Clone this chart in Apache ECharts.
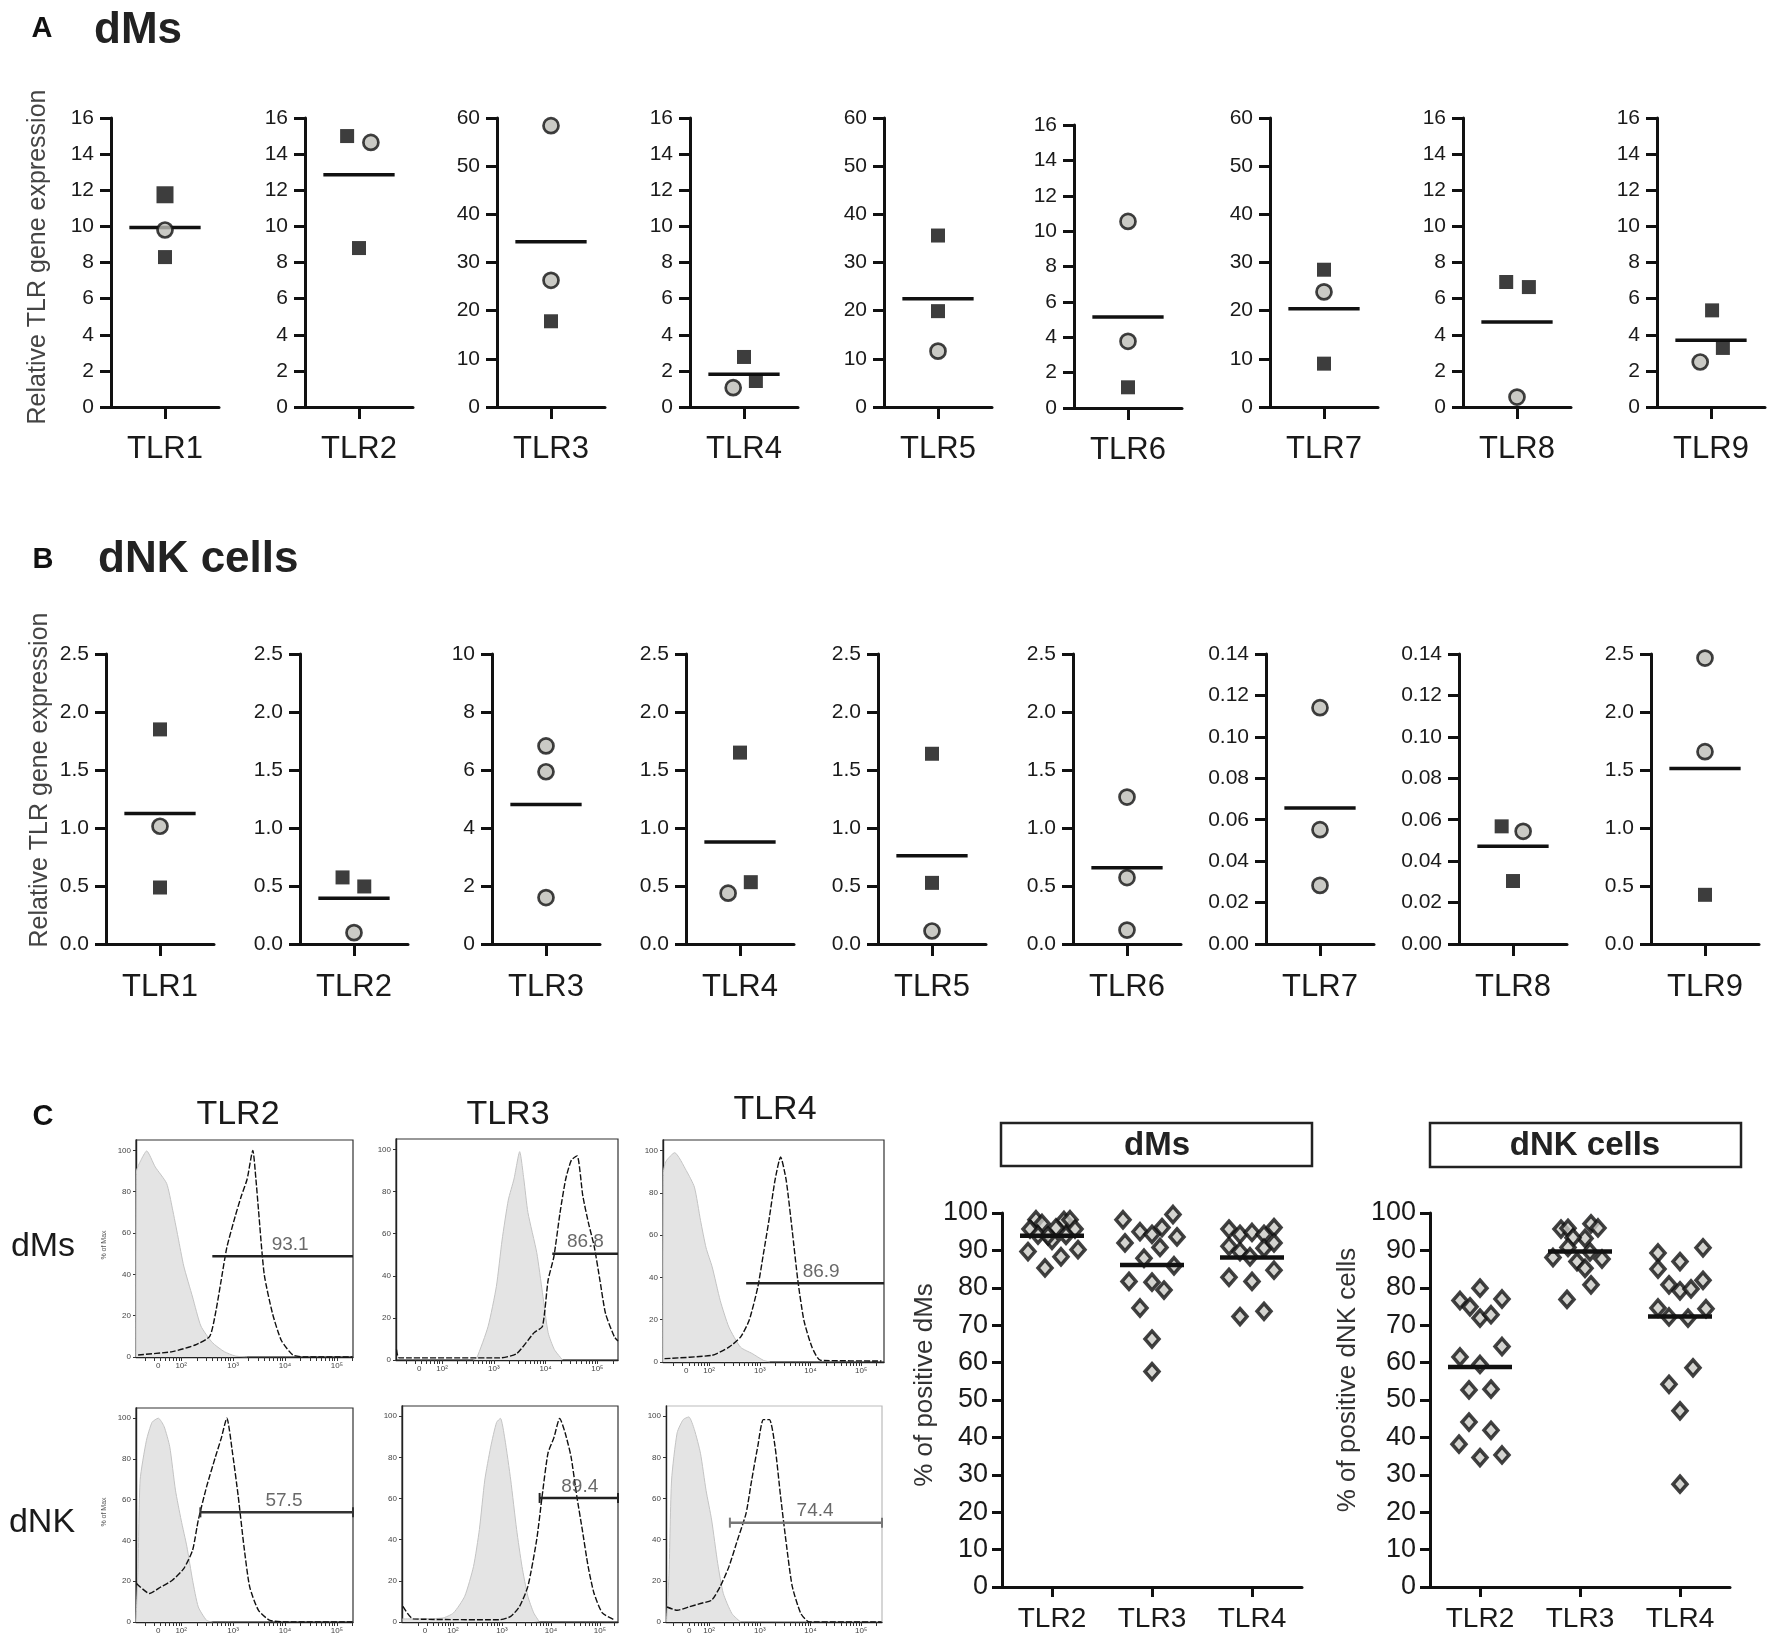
<!DOCTYPE html>
<html>
<head>
<meta charset="utf-8">
<title>TLR expression in dMs and dNK cells</title>
<script src="https://cdn.jsdelivr.net/npm/echarts@6.0.0/dist/echarts.min.js"></script>
<style>
html, body { margin: 0; padding: 0; background: #fff; }
#main { width: 1772px; height: 1650px; }
</style>
</head>
<body>
<div id="main"></div>
<script>
var FONT = '"Liberation Sans", Arial, Helvetica, sans-serif';

// ---- panel A : dMs, relative TLR gene expression ----
// points are [x offset, value] (optional 3rd item = marker size)
var tlrNames = ['TLR1', 'TLR2', 'TLR3', 'TLR4', 'TLR5', 'TLR6', 'TLR7', 'TLR8', 'TLR9'];
var aMax = [16, 16, 60, 16, 60, 16, 60, 16, 16];
var aSquares = [
    [[0, 11.75, 17], [0, 8.3]],
    [[-0.11, 15.0], [0, 8.8]],
    [[0, 17.8]],
    [[0, 2.77], [0.11, 1.44]],
    [[0, 35.6], [0, 19.9]],
    [[0, 1.17]],
    [[0, 28.5], [0, 9.0]],
    [[-0.1, 6.92], [0.11, 6.64]],
    [[0.01, 5.35], [0.11, 3.27]]
];
var aCircles = [
    [[0, 9.8]],
    [[0.11, 14.65]],
    [[0, 58.4], [0, 26.3]],
    [[-0.1, 1.07]],
    [[0, 11.6]],
    [[0, 10.55], [0, 3.77]],
    [[0, 23.9]],
    [[0, 0.55]],
    [[-0.1, 2.49]]
];
var aMeans = [9.94, 12.86, 34.3, 1.81, 22.5, 5.14, 20.4, 4.70, 3.69];

// ---- panel B : dNK cells ----
var bMax = [2.5, 2.5, 10, 2.5, 2.5, 2.5, 0.14, 0.14, 2.5];
var bSquares = [
    [[0, 1.85], [0, 0.487]],
    [[-0.106, 0.574], [0.095, 0.496]],
    [],
    [[0, 1.65], [0.1, 0.533]],
    [[0, 1.64], [0, 0.527]],
    [],
    [],
    [[-0.105, 0.0568], [0, 0.0304]],
    [[0, 0.424]]
];
var bCircles = [
    [[0, 1.015]],
    [[0, 0.098]],
    [[0, 6.83], [0, 5.94], [0, 1.60]],
    [[-0.11, 0.438]],
    [[0, 0.112]],
    [[0, 1.267], [0, 0.573], [0, 0.12]],
    [[0, 0.1141], [0, 0.0552], [0, 0.0283]],
    [[0.094, 0.0544]],
    [[0, 2.465], [0, 1.658]]
];
var bMeans = [1.125, 0.395, 4.81, 0.88, 0.76, 0.657, 0.0656, 0.0472, 1.514];

// ---- panel C : flow histograms (x in log decades, y in % of max) ----
var tlr2DmsIso = [[1.13, 0], [1.14, 90], [1.22, 95], [1.335, 99.7], [1.5, 92], [1.72, 84], [1.83, 72], [1.94, 58], [2.05, 44], [2.22, 29], [2.38, 15], [2.6, 7], [2.83, 2.6], [3.04, 0.5], [3.27, 0]];
var tlr2DmsStain = [[1.17, 1], [1.83, 2.6], [2.27, 5.8], [2.55, 10], [2.66, 21], [2.77, 37], [2.88, 53], [3.04, 68], [3.16, 78], [3.27, 86], [3.38, 100], [3.44, 86], [3.49, 71], [3.6, 40], [3.76, 21], [3.93, 8], [4.15, 1], [4.37, 0], [5.3, 0]];
var tlr3DmsIso = [[2.6, 0], [2.67, 1], [2.89, 16], [3.05, 35], [3.16, 57], [3.28, 76], [3.39, 86], [3.5, 99], [3.58, 86], [3.66, 70], [3.83, 51], [3.94, 32], [4.05, 13], [4.17, 5], [4.33, 0]];
var tlr3DmsStain = [[1.12, 5], [1.17, 1], [3.11, 1], [3.44, 3], [3.78, 13], [3.94, 16], [4.05, 38], [4.16, 49], [4.28, 70], [4.39, 86], [4.5, 95], [4.61, 97], [4.72, 78], [4.83, 65], [4.94, 54], [5.05, 38], [5.16, 22], [5.33, 11], [5.4, 9]];
var tlr4DmsIso = [[1.09, 0], [1.1, 90], [1.15, 95], [1.32, 99], [1.55, 90.5], [1.71, 82.7], [1.83, 67], [1.94, 54], [2.06, 45], [2.22, 29], [2.39, 16.5], [2.62, 7], [2.85, 4], [3.07, 0.8], [3.2, 0]];
var tlr4DmsStain = [[1.12, 1.6], [2.06, 3.2], [2.39, 7], [2.62, 11.8], [2.79, 19.7], [2.96, 35.4], [3.07, 51], [3.18, 67], [3.3, 86], [3.41, 97], [3.52, 86], [3.64, 62], [3.75, 38.6], [3.87, 19.7], [4.03, 7], [4.2, 0.8], [5.4, 0.5]];
var tlr2DnkIso = [[1.13, 0], [1.17, 27], [1.21, 69.7], [1.33, 89], [1.44, 98], [1.56, 100], [1.67, 96], [1.78, 86], [1.89, 64.7], [2.0, 50], [2.11, 37], [2.22, 20.5], [2.33, 7.4], [2.49, 0.8], [2.6, 0]];
var tlr2DnkStain = [[1.14, 18.9], [1.39, 14], [1.61, 17.2], [1.83, 20.5], [2.05, 26.2], [2.22, 35.2], [2.33, 50], [2.49, 66.4], [2.66, 81], [2.77, 90], [2.88, 100], [2.99, 82.8], [3.1, 61.5], [3.21, 37], [3.32, 17.2], [3.49, 5.7], [3.71, 0.8], [4.04, 0], [5.3, 0]];
var tlr3DnkIso = [[0.97, 1.5], [1.78, 1.9], [2.01, 4.4], [2.24, 12.5], [2.42, 27], [2.54, 45], [2.65, 69], [2.77, 85], [2.89, 97], [2.97, 99], [3.06, 89], [3.18, 69], [3.3, 45], [3.41, 27], [3.53, 12.5], [3.65, 4.4], [3.76, 0.3]];
var tlr3DnkStain = [[0.98, 7.6], [1.19, 1.5], [2.95, 1.1], [3.18, 2.7], [3.36, 7.6], [3.53, 17.3], [3.71, 40], [3.82, 61], [3.94, 82], [4.06, 89.5], [4.18, 99], [4.29, 92], [4.41, 80.5], [4.53, 61], [4.64, 45], [4.76, 27], [4.88, 14], [5.05, 4.4], [5.29, 1.1]];
var tlr4DnkIso = [[1.16, 0], [1.21, 23.6], [1.26, 69], [1.37, 92], [1.49, 98.4], [1.6, 99.7], [1.71, 93.5], [1.83, 82], [1.94, 64], [2.05, 49.6], [2.17, 28.5], [2.28, 13.9], [2.45, 4.1], [2.62, 0]];
var tlr4DnkStain = [[1.17, 7.3], [1.37, 5.7], [1.6, 7.3], [1.83, 9], [2.05, 10.6], [2.22, 17.3], [2.39, 26.8], [2.56, 39.9], [2.73, 52.9], [2.84, 69], [2.96, 85.4], [3.07, 98.4], [3.19, 98.4], [3.3, 85.4], [3.41, 61], [3.53, 36.6], [3.64, 17.3], [3.81, 4.1], [3.98, 0], [5.4, 0]];
// gate: [from, to, height], percentage text
var gateRanges = [[2.6, 5.31, 48.8], [4.13, 5.4, 50.5], [2.73, 5.45, 37.3], [2.37, 5.31, 53.8], [3.77, 5.37, 60.3], [2.41, 5.41, 48.3]];
var gateTexts = ['93.1', '86.8', '86.9', '57.5', '89.4', '74.4'];
var gateTextX = [4.10, 4.77, 4.21, 3.98, 4.59, 4.09];

// ---- panel C : % positive cells (x = group index + jitter) ----
var cGroups = ['TLR2', 'TLR3', 'TLR4'];
var dmsTlr2 = [[-0.16, 98.2], [-0.10, 97.2], [0.12, 98.0], [0.18, 98.2], [-0.22, 95.7], [0.04, 96.0], [0.23, 95.7], [0.00, 92.7], [-0.24, 89.7], [0.26, 90.2], [0.09, 88.3], [-0.07, 85.3], [-0.14, 94.1], [-0.04, 93.9], [0.14, 94.0]];
var dmsTlr3 = [[-0.29, 98.2], [0.21, 99.6], [0.10, 96.1], [-0.12, 95.0], [0, 94.3], [0.25, 93.6], [-0.27, 92.0], [0.08, 90.8], [-0.08, 87.9], [0.22, 85.9], [-0.23, 81.7], [0, 81.5], [0.12, 79.4], [-0.12, 74.6], [0, 66.3], [0, 57.6]];
var dmsTlr4 = [[-0.23, 95.7], [-0.12, 94.3], [0, 94.8], [0.12, 94.3], [0.22, 96.1], [-0.23, 91.1], [-0.12, 89.7], [0.12, 90.6], [0.22, 92.0], [-0.02, 88.3], [-0.23, 82.8], [0, 81.7], [0.22, 84.7], [-0.12, 72.3], [0.12, 73.7]];
var dmsMeans = [93.9, 86.1, 88.1];
var dnkTlr2 = [[-0.2, 76.6], [-0.1, 74.9], [0, 79.9], [0.22, 77.0], [0, 71.9], [0.11, 72.8], [0.22, 64.3], [-0.2, 61.5], [0, 59.5], [-0.11, 52.7], [0.11, 52.9], [-0.11, 44.1], [0.11, 41.9], [-0.21, 38.2], [0, 34.6], [0.22, 35.3]];
var dnkTlr3 = [[-0.19, 95.7], [-0.12, 95.9], [0.11, 97.1], [0.18, 96.0], [0.05, 93.2], [-0.07, 93.4], [-0.12, 90.8], [-0.27, 88.1], [-0.03, 87.0], [0.1, 89.6], [0.22, 87.7], [0.05, 85.2], [0.11, 80.8], [-0.13, 76.9]];
var dnkTlr4 = [[-0.22, 89.3], [0, 87.0], [0.23, 90.7], [-0.22, 85.0], [-0.11, 80.8], [0, 79.2], [0.11, 79.7], [0.23, 82.0], [-0.22, 74.6], [-0.11, 72.2], [0.08, 71.9], [0.26, 74.4], [0.13, 58.6], [-0.11, 54.2], [0, 47.1], [0, 27.5]];
var dnkMeans = [58.8, 89.7, 72.3];

// layout (pixels)
var aLeft = [111, 305, 497, 690, 884, 1074, 1270, 1463, 1657];
var bLeft = [106, 300, 492, 686, 878, 1073, 1266, 1459, 1651];

var myChart = echarts.init(document.getElementById('main'));
var option = { animation: false, grid: [], xAxis: [], yAxis: [], series: [], graphic: [] };

function newGrid(cfg) {
    cfg.containLabel = false;
    cfg.outerBoundsMode = 'none';
    option.grid.push(cfg);
    return option.grid.length - 1;
}

// one small gene-expression plot (panels A, B)
function addExprPlot(left, top, height, max, digits, name, squares, circles, mean, labelMargin) {
    var gi = newGrid({ left: left, top: top, width: 108, height: height });
    var step = max <= 0.2 ? 0.02 : (max <= 2.5 ? 0.5 : (max <= 16 ? 2 : 10));
    option.xAxis.push({
        gridIndex: gi, type: 'value', min: -0.5, max: 0.5,
        axisLine: { show: true, onZero: false, lineStyle: { color: '#111', width: 3 } },
        axisTick: { show: true, customValues: [0], length: 12, lineStyle: { color: '#111', width: 3 } },
        axisLabel: { show: true, customValues: [0], formatter: function () { return name; },
            fontSize: 31, color: '#1a1a1a', margin: labelMargin, fontFamily: FONT },
        splitLine: { show: false }
    });
    option.yAxis.push({
        gridIndex: gi, type: 'value', min: 0, max: max, interval: step,
        axisLine: { show: true, onZero: false, lineStyle: { color: '#111', width: 3 } },
        axisTick: { show: true, length: 11, lineStyle: { color: '#111', width: 3 } },
        axisLabel: { fontSize: 21, color: '#1a1a1a', margin: 17, fontFamily: FONT,
            formatter: function (v) { return v.toFixed(digits); } },
        splitLine: { show: false }
    });
    option.series.push({
        type: 'line', xAxisIndex: gi, yAxisIndex: gi, data: [[-0.33, mean], [0.33, mean]],
        symbol: 'none', silent: true, z: 2, lineStyle: { color: '#111', width: 3.5 }
    });
    option.series.push({
        type: 'scatter', xAxisIndex: gi, yAxisIndex: gi, data: squares, symbol: 'rect',
        symbolSize: function (v) { return v[2] || 14; }, silent: true, z: 3, itemStyle: { color: '#0c0c0c' }
    });
    option.series.push({
        type: 'scatter', xAxisIndex: gi, yAxisIndex: gi, data: circles, symbol: 'circle',
        symbolSize: 15, silent: true, z: 4,
        itemStyle: { color: '#bdbdb7', borderColor: '#111', borderWidth: 2.7 }
    });
}

for (var i = 0; i < 9; i++) {
    addExprPlot(aLeft[i], i == 5 ? 125 : 118, i == 5 ? 283 : 289, aMax[i], 0, tlrNames[i],
        aSquares[i], aCircles[i], aMeans[i], 27);
    var bDig = bMax[i] == 10 ? 0 : (bMax[i] < 1 ? 2 : 1);
    addExprPlot(bLeft[i], 654, 290, bMax[i], bDig, tlrNames[i],
        bSquares[i], bCircles[i], bMeans[i], 28);
}

// flow histogram
var SUP = { 2: '\u00b2', 3: '\u00b3', 4: '\u2074', 5: '\u2075' };
function addHist(left, top, width, height, xMin, xMax, zeroPos, iso, stain, k, gateColor, endTicks) {
    var gi = newGrid({ left: left, top: top, width: width, height: height,
        show: true, borderColor: k == 5 ? '#bbb' : '#333', borderWidth: 1.2, backgroundColor: 'transparent' });
    var minor = [];
    for (var d = 1; d <= 5; d++) {
        for (var m = 1; m <= 9; m++) {
            var v = d + Math.log10(m);
            if (v >= xMin && v <= xMax && v > zeroPos - 0.35) minor.push(v);
        }
    }
    option.xAxis.push({
        gridIndex: gi, type: 'value', min: xMin, max: xMax,
        axisLine: { show: true, onZero: false, lineStyle: { color: '#222', width: 1.4 } },
        axisTick: { show: true, customValues: minor, length: 4, lineStyle: { color: '#333', width: 1 } },
        axisLabel: { show: true, customValues: [zeroPos, 2, 3, 4, 5], fontSize: 8, color: '#444', margin: 5,
            fontFamily: FONT,
            formatter: function (v) { return Math.abs(v - zeroPos) < 0.01 ? '0' : '10' + SUP[Math.round(v)]; } },
        splitLine: { show: false }
    });
    option.yAxis.push({
        gridIndex: gi, type: 'value', min: 0, max: 105,
        axisLine: { show: true, onZero: false, lineStyle: { color: '#222', width: 1.4 } },
        axisTick: { show: true, customValues: [0, 20, 40, 60, 80, 100], length: 3, lineStyle: { color: '#333' } },
        axisLabel: { show: true, customValues: [0, 20, 40, 60, 80, 100], fontSize: 8, color: '#444', margin: 5,
            fontFamily: FONT },
        splitLine: { show: false }
    });
    option.series.push({
        type: 'line', xAxisIndex: gi, yAxisIndex: gi, data: iso, smooth: 0.2, symbol: 'none', silent: true,
        z: 2, lineStyle: { color: '#c4c4c4', width: 1 }, areaStyle: { color: '#e4e4e4', opacity: 1 }
    });
    option.series.push({
        type: 'line', xAxisIndex: gi, yAxisIndex: gi, data: stain, smooth: 0.2, symbol: 'none', silent: true,
        z: 3, lineStyle: { color: '#111', width: 1.4, type: [6, 2] }
    });
    var g = gateRanges[k];
    option.series.push({
        type: 'line', xAxisIndex: gi, yAxisIndex: gi, data: [[g[0], g[2]], [g[1], g[2]]],
        symbol: endTicks ? 'rect' : 'none', symbolSize: [2, 10], silent: true, z: 4,
        itemStyle: { color: gateColor }, lineStyle: { color: gateColor, width: 2.5 }
    });
    option.series.push({
        type: 'scatter', xAxisIndex: gi, yAxisIndex: gi, data: [[gateTextX[k], g[2]]],
        symbolSize: 0.1, silent: true, z: 5, itemStyle: { color: 'rgba(0,0,0,0)' },
        label: { show: true, position: 'top', distance: 2, formatter: gateTexts[k],
            fontSize: 19, color: '#444', fontFamily: FONT }
    });
}

addHist(136, 1140, 217, 217, 1.13, 5.31, 1.56, tlr2DmsIso, tlr2DmsStain, 0, '#222', false);
addHist(396, 1139, 222, 221, 1.11, 5.40, 1.56, tlr3DmsIso, tlr3DmsStain, 1, '#222', false);
addHist(663, 1140, 221, 222, 1.09, 5.45, 1.55, tlr4DmsIso, tlr4DmsStain, 2, '#222', false);
addHist(136, 1408, 217, 214, 1.13, 5.31, 1.56, tlr2DnkIso, tlr2DnkStain, 3, '#333', true);
addHist(402, 1406, 216, 216, 0.96, 5.37, 1.43, tlr3DnkIso, tlr3DnkStain, 4, '#222', true);
addHist(666, 1406, 216, 216, 1.15, 5.41, 1.61, tlr4DnkIso, tlr4DnkStain, 5, '#777', true);

// % positive dot plots
function addPercentPlot(left, groups, means) {
    var gi = newGrid({ left: left, top: 1213, width: 300, height: 374 });
    option.xAxis.push({
        gridIndex: gi, type: 'value', min: -0.5, max: 2.5,
        axisLine: { show: true, onZero: false, lineStyle: { color: '#111', width: 3 } },
        axisTick: { show: true, customValues: [0, 1, 2], length: 10, lineStyle: { color: '#111', width: 3 } },
        axisLabel: { show: true, customValues: [0, 1, 2], formatter: function (v) { return cGroups[Math.round(v)]; },
            fontSize: 28, color: '#1a1a1a', margin: 18, fontFamily: FONT },
        splitLine: { show: false }
    });
    option.yAxis.push({
        gridIndex: gi, type: 'value', min: 0, max: 100, interval: 10,
        axisLine: { show: true, onZero: false, lineStyle: { color: '#111', width: 3 } },
        axisTick: { show: true, length: 10, lineStyle: { color: '#111', width: 3 } },
        axisLabel: { fontSize: 27, color: '#1a1a1a', margin: 14, fontFamily: FONT },
        splitLine: { show: false }
    });
    for (var j = 0; j < groups.length; j++) {
        var pts = groups[j].map(function (p) { return [j + p[0], p[1]]; });
        option.series.push({
            type: 'scatter', xAxisIndex: gi, yAxisIndex: gi, data: pts, symbol: 'diamond',
            symbolSize: [14, 16], silent: true, z: 3,
            itemStyle: { color: '#c9c9c4', borderColor: '#111', borderWidth: 3.5 }
        });
        option.series.push({
            type: 'line', xAxisIndex: gi, yAxisIndex: gi, data: [[j - 0.32, means[j]], [j + 0.32, means[j]]],
            symbol: 'none', silent: true, z: 4, lineStyle: { color: '#111', width: 4.5 }
        });
    }
}
addPercentPlot(1002, [dmsTlr2, dmsTlr3, dmsTlr4], dmsMeans);
addPercentPlot(1430, [dnkTlr2, dnkTlr3, dnkTlr4], dnkMeans);

// texts and frames
function txt(x, y, s, size, opts) {
    opts = opts || {};
    return {
        type: 'text', x: x, y: y, rotation: opts.rot || 0, silent: true,
        style: {
            text: s, fontSize: size, fontWeight: opts.bold ? 'bold' : 'normal', fontFamily: FONT,
            fill: opts.color || '#1a1a1a',
            align: opts.align || 'center', textAlign: opts.align || 'center',
            verticalAlign: 'middle', textVerticalAlign: 'middle'
        }
    };
}
option.graphic = [
    txt(42, 29, 'A', 29, { bold: true, color: '#111' }),
    txt(94, 31, 'dMs', 44, { bold: true, align: 'left', color: '#222' }),
    txt(43, 560, 'B', 29, { bold: true, color: '#111' }),
    txt(98, 560, 'dNK cells', 44, { bold: true, align: 'left', color: '#222' }),
    txt(43, 1117, 'C', 29, { bold: true, color: '#111' }),
    txt(38, 257, 'Relative TLR gene expression', 25, { rot: Math.PI / 2, color: '#444' }),
    txt(40, 780, 'Relative TLR gene expression', 25, { rot: Math.PI / 2, color: '#444' }),
    txt(238, 1115, 'TLR2', 34),
    txt(508, 1115, 'TLR3', 34),
    txt(775, 1110, 'TLR4', 34),
    txt(43, 1247, 'dMs', 34),
    txt(42, 1523, 'dNK', 34),
    txt(104, 1245, '% of Max', 7, { rot: Math.PI / 2, color: '#555' }),
    txt(104, 1512, '% of Max', 7, { rot: Math.PI / 2, color: '#555' }),
    { type: 'rect', silent: true, shape: { x: 1001, y: 1123, width: 311, height: 43 },
        style: { fill: 'none', stroke: '#222', lineWidth: 2.5 } },
    txt(1157, 1146, 'dMs', 33, { bold: true, color: '#222' }),
    { type: 'rect', silent: true, shape: { x: 1430, y: 1123, width: 311, height: 44 },
        style: { fill: 'none', stroke: '#222', lineWidth: 2.5 } },
    txt(1585, 1146, 'dNK cells', 33, { bold: true, color: '#222' }),
    txt(925, 1385, '% of positive dMs', 26, { rot: Math.PI / 2, color: '#333' }),
    txt(1348, 1380, '% of positive dNK cells', 26, { rot: Math.PI / 2, color: '#333' })
];

myChart.setOption(option);
</script>
</body>
</html>
